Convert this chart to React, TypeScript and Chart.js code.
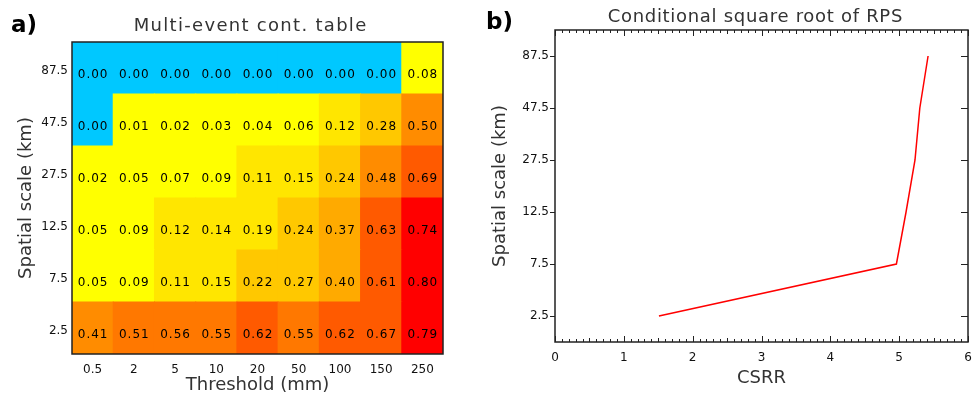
import React, { useEffect, useRef } from "react";
import { Chart, registerables } from "chart.js";

Chart.register(...registerables);

// ---------- data ----------
const thresholdLabels = ["0.5", "2", "5", "10", "20", "50", "100", "150", "250"];
const scaleLabels = ["2.5", "7.5", "12.5", "27.5", "47.5", "87.5"]; // bottom -> top

const scores2_5 = [0.41, 0.51, 0.56, 0.55, 0.62, 0.55, 0.62, 0.67, 0.79];
const scores7_5 = [0.05, 0.09, 0.11, 0.15, 0.22, 0.27, 0.40, 0.61, 0.80];
const scores12_5 = [0.05, 0.09, 0.12, 0.14, 0.19, 0.24, 0.37, 0.63, 0.74];
const scores27_5 = [0.02, 0.05, 0.07, 0.09, 0.11, 0.15, 0.24, 0.48, 0.69];
const scores47_5 = [0.0, 0.01, 0.02, 0.03, 0.04, 0.06, 0.12, 0.28, 0.50];
const scores87_5 = [0.0, 0.0, 0.0, 0.0, 0.0, 0.0, 0.0, 0.0, 0.08];
const heatRows = [scores2_5, scores7_5, scores12_5, scores27_5, scores47_5, scores87_5];

const csrrValues = [1.51, 4.96, 5.1, 5.23, 5.3, 5.42]; // one per spatial scale, bottom -> top
const csrrTickValues = [0, 1, 2, 3, 4, 5, 6];
const CSRR_MINOR_STEP = 0.1;

// ---------- styles ----------
const FONT = "'DejaVu Sans', sans-serif";
const TEXT = "#333";

function cellColor(v: number): string {
  if (v === 0) return "#00C8FF";
  if (v < 0.1) return "#FFFF00";
  if (v < 0.2) return "#FFE600";
  if (v < 0.3) return "#FFC800";
  if (v <= 0.4) return "#FFAA00";
  if (v <= 0.5) return "#FF8C00";
  if (v < 0.6) return "#FF7800";
  if (v < 0.7) return "#FF5A00";
  return "#FF0000";
}

function titlePlugin(id: string, text: string, cx: number, cy: number, spacing: number, label: string, lx: number, ly: number) {
  return {
    id,
    afterDraw(chart: any) {
      const ctx = chart.ctx;
      ctx.save();
      ctx.fillStyle = TEXT;
      ctx.font = `18px ${FONT}`;
      ctx.textAlign = "center";
      ctx.textBaseline = "middle";
      if ("letterSpacing" in ctx) (ctx as any).letterSpacing = `${spacing}px`;
      ctx.fillText(text, cx + spacing / 2, cy);
      if ("letterSpacing" in ctx) (ctx as any).letterSpacing = "0px";
      ctx.fillStyle = "#000";
      ctx.font = `bold 23px ${FONT}`;
      ctx.textAlign = "left";
      ctx.fillText(label, lx, ly);
      ctx.restore();
    },
  };
}

const framePlugin = {
  id: "frame",
  afterDraw(chart: any) {
    const { ctx, chartArea } = chart;
    ctx.save();
    ctx.strokeStyle = "#222";
    ctx.lineWidth = 1.5;
    ctx.strokeRect(chartArea.left, chartArea.top, chartArea.right - chartArea.left, chartArea.bottom - chartArea.top);
    ctx.restore();
  },
};

const cellTextPlugin = {
  id: "cellText",
  afterDatasetsDraw(chart: any) {
    const ctx = chart.ctx;
    ctx.save();
    ctx.font = `12px ${FONT}`;
    ctx.fillStyle = "#000";
    ctx.textAlign = "center";
    ctx.textBaseline = "middle";
    if ("letterSpacing" in ctx) (ctx as any).letterSpacing = "1px";
    heatRows.forEach((row, r) => {
      const meta = chart.getDatasetMeta(r);
      meta.data.forEach((el: any, i: number) => {
        const { x, y, base } = el.getProps(["x", "y", "base"], true);
        ctx.fillText(row[i].toFixed(2), x + 0.5, (y + base) / 2 + 7);
      });
    });
    ctx.restore();
  },
};

const csrrTicksPlugin = {
  id: "csrrTicks",
  afterDraw(chart: any) {
    const { ctx, chartArea } = chart;
    const xs = chart.scales.x;
    const ys = chart.scales.y;
    ctx.save();
    ctx.strokeStyle = "#222";
    ctx.lineWidth = 1;
    ctx.beginPath();
    const n = Math.round((xs.max - xs.min) / CSRR_MINOR_STEP);
    for (let i = 0; i <= n; i++) {
      const px = Math.round(xs.getPixelForValue(xs.min + i * CSRR_MINOR_STEP)) + 0.5;
      const len = i % 10 === 0 ? 6 : i % 5 === 0 ? 4 : 3;
      ctx.moveTo(px, chartArea.bottom);
      ctx.lineTo(px, chartArea.bottom - len);
      ctx.moveTo(px, chartArea.top);
      ctx.lineTo(px, chartArea.top + len);
    }
    ys.ticks.forEach((t: any) => {
      const py = Math.round(ys.getPixelForValue(t.value)) + 0.5;
      ctx.moveTo(chartArea.left - 5, py);
      ctx.lineTo(chartArea.left, py);
      ctx.moveTo(chartArea.right - 7, py);
      ctx.lineTo(chartArea.right, py);
    });
    ctx.stroke();
    ctx.restore();
  },
};

const tickFont = { family: FONT, size: 12 };
const axisTitleFont = { family: FONT, size: 18 };
const noGrid = { display: false, drawTicks: false, tickLength: 0 };

function HeatmapPanel() {
  const ref = useRef<HTMLCanvasElement | null>(null);
  useEffect(() => {
    if (!ref.current) return;
    const chart = new Chart(ref.current, {
      type: "bar",
      data: {
        labels: thresholdLabels,
        datasets: heatRows.map((row, r) => ({
          label: scaleLabels[r],
          data: row.map(() => [r - 0.5, r + 0.5]),
          backgroundColor: row.map(cellColor),
          borderWidth: 0,
          barPercentage: 1,
          categoryPercentage: 1,
          grouped: false,
          inflateAmount: 0.5,
        })) as any,
      },
      options: {
        responsive: false,
        animation: false,
        devicePixelRatio: 1,
        layout: { padding: { left: 0, right: 17, top: 42, bottom: 0 } },
        plugins: { legend: { display: false }, tooltip: { enabled: false }, title: { display: false } },
        scales: {
          x: {
            type: "category",
            offset: true,
            grid: noGrid,
            border: { display: false },
            ticks: { font: tickFont, color: "#111", padding: 9, maxRotation: 0, autoSkip: false },
            title: { display: true, text: "Threshold (mm)", font: axisTitleFont, color: TEXT, padding: { top: 0, bottom: 1 } },
            afterFit: (s: any) => {
              s.height = 43;
              s.paddingLeft = 0;
              s.paddingRight = 0;
            },
          },
          y: {
            type: "linear",
            min: -0.5,
            max: 5.5,
            afterBuildTicks: (s: any) => {
              s.ticks = scaleLabels.map((_, i) => ({ value: i }));
            },
            grid: noGrid,
            border: { display: false },
            ticks: { font: tickFont, color: "#111", padding: 4, labelOffset: 3, callback: (v: any) => scaleLabels[v] ?? "" },
            title: { display: true, text: "Spatial scale (km)", font: axisTitleFont, color: TEXT, padding: { top: 16, bottom: 0 } },
            afterFit: (s: any) => {
              s.width = 72;
              s.paddingTop = 0;
              s.paddingBottom = 0;
            },
          },
        },
      } as any,
      plugins: [cellTextPlugin, framePlugin, titlePlugin("titleA", "Multi-event cont. table", 250, 26, 1.3, "a)", 11, 26)],
    });
    return () => chart.destroy();
  }, []);
  return <canvas ref={ref} width={460} height={397} style={{ position: "absolute", left: 0, top: 0, width: 460, height: 397 }} />;
}

function CsrrPanel() {
  const ref = useRef<HTMLCanvasElement | null>(null);
  useEffect(() => {
    if (!ref.current) return;
    const chart = new Chart(ref.current, {
      type: "line",
      data: {
        datasets: [
          {
            label: "CSRR",
            data: csrrValues.map((v, i) => ({ x: v, y: i })),
            borderColor: "#FF0000",
            borderWidth: 1.5,
            pointRadius: 0,
            tension: 0,
            fill: false,
          },
        ],
      },
      options: {
        responsive: false,
        animation: false,
        devicePixelRatio: 1,
        layout: { padding: { left: 0, right: 5, top: 30, bottom: 0 } },
        plugins: { legend: { display: false }, tooltip: { enabled: false }, title: { display: false } },
        scales: {
          x: {
            type: "linear",
            min: 0,
            max: 6,
            afterBuildTicks: (s: any) => {
              s.ticks = csrrTickValues.map((v) => ({ value: v }));
            },
            grid: noGrid,
            border: { display: false },
            ticks: { font: tickFont, color: "#111", padding: 9, maxRotation: 0, autoSkip: false },
            title: { display: true, text: "CSRR", font: axisTitleFont, color: TEXT, padding: { top: 0, bottom: 8 } },
            afterFit: (s: any) => {
              s.height = 55;
              s.paddingLeft = 0;
              s.paddingRight = 0;
            },
          },
          y: {
            type: "linear",
            min: -0.5,
            max: 5.5,
            afterBuildTicks: (s: any) => {
              s.ticks = scaleLabels.map((_, i) => ({ value: i }));
            },
            grid: noGrid,
            border: { display: false },
            ticks: { font: tickFont, color: "#111", padding: 6, callback: (v: any) => scaleLabels[v] ?? "" },
            title: { display: true, text: "Spatial scale (km)", font: axisTitleFont, color: TEXT, padding: { top: 20, bottom: 0 } },
            afterFit: (s: any) => {
              s.width = 85;
              s.paddingTop = 0;
              s.paddingBottom = 0;
            },
          },
        },
      } as any,
      plugins: [framePlugin, csrrTicksPlugin, titlePlugin("titleB", "Conditional square root of RPS", 285, 17, 0.7, "b)", 16, 23)],
    });
    return () => chart.destroy();
  }, []);
  return <canvas ref={ref} width={503} height={397} style={{ position: "absolute", left: 470, top: 0, width: 503, height: 397 }} />;
}

export default function App() {
  return (
    <div style={{ position: "absolute", left: 0, top: 0, width: 973, height: 397, background: "#fff", overflow: "hidden" }}>
      <HeatmapPanel />
      <CsrrPanel />
    </div>
  );
}
